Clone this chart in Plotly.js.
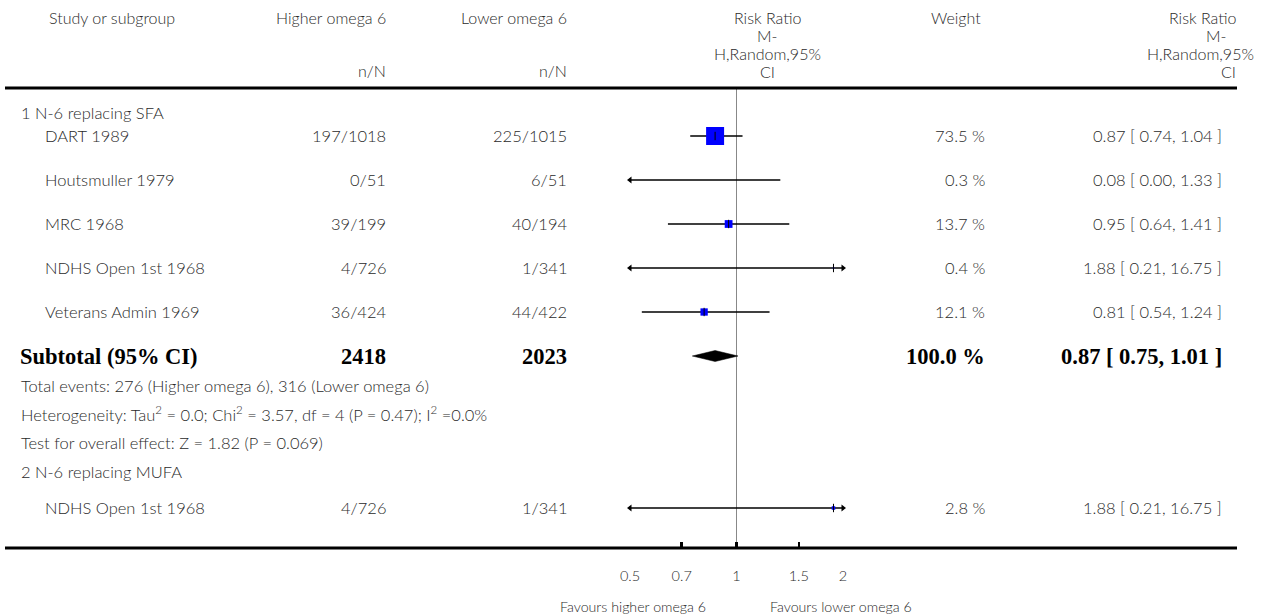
<!DOCTYPE html>
<html>
<head>
<meta charset="utf-8">
<script src="https://cdn.plot.ly/plotly-3.0.1.min.js"></script>
<style>html,body{margin:0;padding:0;background:#fff;}#chart{width:1266px;height:615px;}</style>
</head>
<body>
<div id="chart"></div>
<script>
// ---------- data ----------
const group1Label = "1 N-6 replacing SFA";
const group2Label = "2 N-6 replacing MUFA";
const studies1 = ["DART 1989", "Houtsmuller 1979", "MRC 1968", "NDHS Open 1st 1968", "Veterans Admin 1969"];
const higher1 = ["197/1018", "0/51", "39/199", "4/726", "36/424"];
const lower1 = ["225/1015", "6/51", "40/194", "1/341", "44/422"];
const rr1 = [0.87, 0.08, 0.95, 1.88, 0.81];
const lo1 = [0.74, 0.00, 0.64, 0.21, 0.54];
const hi1 = [1.04, 1.33, 1.41, 16.75, 1.24];
const weight1 = [73.5, 0.3, 13.7, 0.4, 12.1];

const subtotalLabel = "Subtotal (95% CI)";
const subtotalHigher = "2418";
const subtotalLower = "2023";
const subtotalRR = 0.87, subtotalLo = 0.75, subtotalHi = 1.01;
const subtotalWeight = 100.0;
const statLines = [
  "Total events: 276 (Higher omega 6), 316 (Lower omega 6)",
  "Heterogeneity: Tau<sup>2</sup> = 0.0; Chi<sup>2</sup> = 3.57, df = 4 (P = 0.47); I<sup>2</sup> =0.0%",
  "Test for overall effect: Z = 1.82 (P = 0.069)"
];

const studies2 = ["NDHS Open 1st 1968"];
const higher2 = ["4/726"];
const lower2 = ["1/341"];
const rr2 = [1.88];
const lo2 = [0.21];
const hi2 = [16.75];
const weight2 = [2.8];

const headerCols = ["Study or subgroup", "Higher omega 6", "Lower omega 6", "Weight"];
const headerUnits = ["n/N", "n/N"];
const rrHeader = ["Risk Ratio", "M-", "H,Random,95%", "CI"];
const tickVals = [0.5, 0.7, 1, 1.5, 2];
const tickText = ["0.5", "0.7", "1", "1.5", "2"];
const favoursLeft = "Favours higher omega 6";
const favoursRight = "Favours lower omega 6";

// ---------- layout constants ----------
const W = 1266, H = 615;
const XMIN = 0.5, XMAX = 2;
const FONT = "Lato, 'Open Sans', sans-serif";
const TXT = "#2a2a2a";
const BODY = 16.5, HEAD = 16;
const yHead1 = 113, yRows1 = [136, 180, 224, 268, 312], ySub = 356;
const yStats = [386, 414, 443], yHead2 = 472, yRows2 = [508];
const yTopLine = 88, yAxis = 548;

const px = v => v / W;
const annotations = [];
function ann(text, xp, y, anchor, size, opts) {
  annotations.push(Object.assign({
    text: text, x: px(xp), xref: "paper", y: y, yref: "y",
    xanchor: anchor, yanchor: "middle", showarrow: false,
    font: { family: FONT, size: size || BODY, color: TXT, weight: 300 }
  }, opts || {}));
}

// header
ann(headerCols[0], 47, 17, "left", HEAD);
ann(headerCols[1], 388, 17, "right", HEAD);
ann(headerCols[2], 569, 17, "right", HEAD);
ann(headerUnits[0], 388, 70, "right", HEAD);
ann(headerUnits[1], 569, 70, "right", HEAD);
ann(headerCols[3], 956, 17, "center", HEAD);
const rrY = [17, 35, 53, 71];
rrHeader.forEach((t, i) => ann(t, 767, rrY[i], "center", HEAD));
ann(rrHeader[0], 1238, rrY[0], "right", HEAD);
ann(rrHeader[1], 1228, rrY[1], "right", HEAD);
ann(rrHeader[2], 1256, rrY[2], "right", HEAD);
ann(rrHeader[3], 1238, rrY[3], "right", HEAD);

const fmt = v => v.toFixed(2);
function rowText(names, hs, ls, rrs, los, his, ws, ys) {
  names.forEach((n, i) => {
    ann(n, 43, ys[i], "left");
    ann(hs[i], 388, ys[i], "right");
    ann(ls[i], 569, ys[i], "right");
    ann(ws[i].toFixed(1) + " %", 987, ys[i], "right");
    ann(fmt(rrs[i]) + " [ " + fmt(los[i]) + ", " + fmt(his[i]) + " ]", 1224, ys[i], "right");
  });
}
ann(group1Label, 19, yHead1, "left");
rowText(studies1, higher1, lower1, rr1, lo1, hi1, weight1, yRows1);

const bold = { family: "'Liberation Serif', 'Times New Roman', serif", size: 22.5, color: "#000", weight: "bold" };
function boldAnn(text, xp, anchor) {
  annotations.push({ text: "<b>" + text + "</b>", x: px(xp), xref: "paper", y: ySub, yref: "y", xanchor: anchor, yanchor: "middle", showarrow: false, font: bold });
}
boldAnn(subtotalLabel, 18, "left");
boldAnn(subtotalHigher, 388, "right");
boldAnn(subtotalLower, 569, "right");
boldAnn(subtotalWeight.toFixed(1) + " %", 987, "right");
boldAnn(fmt(subtotalRR) + " [ " + fmt(subtotalLo) + ", " + fmt(subtotalHi) + " ]", 1224, "right");

statLines.forEach((t, i) => ann(t, 19, yStats[i], "left"));
ann(group2Label, 19, yHead2, "left");
rowText(studies2, higher2, lower2, rr2, lo2, hi2, weight2, yRows2);

ann(favoursLeft, 708, 606, "right", 14.2);
ann(favoursRight, 768, 606, "left", 14.2);

// ---------- traces ----------
const traces = [];
function studyTraces(rrs, los, his, ws, ys) {
  rrs.forEach((r, i) => {
    const a = Math.max(los[i], XMIN), b = Math.min(his[i], XMAX);
    traces.push({ x: [a, b], y: [ys[i], ys[i]], mode: "lines", line: { color: "#000", width: 1.3 }, hoverinfo: "skip", cliponaxis: false });
    if (los[i] < XMIN) traces.push({ x: [XMIN], y: [ys[i]], mode: "markers", marker: { symbol: "triangle-left", size: 6, color: "#000" }, cliponaxis: false, hoverinfo: "skip" });
    if (his[i] > XMAX) traces.push({ x: [XMAX], y: [ys[i]], mode: "markers", marker: { symbol: "triangle-right", size: 6, color: "#000" }, cliponaxis: false, hoverinfo: "skip" });
    if (r >= XMIN && r <= XMAX) {
      traces.push({ x: [r], y: [ys[i]], mode: "markers", marker: { symbol: "square", size: Math.max(1.5, 2.1 * Math.sqrt(ws[i])), color: "#0000ff", line: { width: 0 } }, cliponaxis: false, hoverinfo: "skip" });
      traces.push({ x: [r], y: [ys[i]], mode: "markers", marker: { symbol: "line-ns", size: 6, line: { color: "#000", width: 1 } }, cliponaxis: false, hoverinfo: "skip" });
    }
  });
}
studyTraces(rr1, lo1, hi1, weight1, yRows1);
studyTraces(rr2, lo2, hi2, weight2, yRows2);

// diamond
traces.push({
  x: [subtotalLo, subtotalRR, subtotalHi, subtotalRR, subtotalLo],
  y: [ySub, ySub - 5.5, ySub, ySub + 5.5, ySub],
  mode: "lines", fill: "toself", fillcolor: "#000", line: { color: "#000", width: 0.5 }, hoverinfo: "skip"
});

const layout = {
  width: W, height: H,
  margin: { l: 0, r: 0, t: 0, b: 0 },
  paper_bgcolor: "#fff", plot_bgcolor: "rgba(0,0,0,0)",
  showlegend: false,
  xaxis: {
    type: "log", range: [Math.log10(XMIN), Math.log10(XMAX)],
    domain: [630 / W, 843 / W],
    anchor: "free", position: 1 - yAxis / H,
    showgrid: false, zeroline: false, showline: false,
    ticks: "inside", ticklen: 6, tickwidth: 2.5, tickcolor: "#000",
    tickvals: tickVals, ticktext: tickText,
    tickfont: { family: FONT, size: 14.5, color: TXT, weight: 300 },
    ticklabelstandoff: 17
  },
  yaxis: { range: [H, 0], domain: [0, 1], visible: false, showgrid: false, zeroline: false },
  shapes: [
    { type: "line", xref: "paper", yref: "y", x0: px(5), x1: px(1237), y0: yTopLine, y1: yTopLine, line: { color: "#000", width: 3 } },
    { type: "line", xref: "paper", yref: "y", x0: px(5), x1: px(1237), y0: yAxis, y1: yAxis, line: { color: "#000", width: 3 } },
    { type: "line", xref: "x", yref: "y", x0: 1, x1: 1, y0: yTopLine, y1: yAxis, line: { color: "#888", width: 1 }, layer: "below" }
  ],
  annotations: annotations
};

Plotly.newPlot("chart", traces, layout, { displayModeBar: false, staticPlot: true });
</script>
</body>
</html>
